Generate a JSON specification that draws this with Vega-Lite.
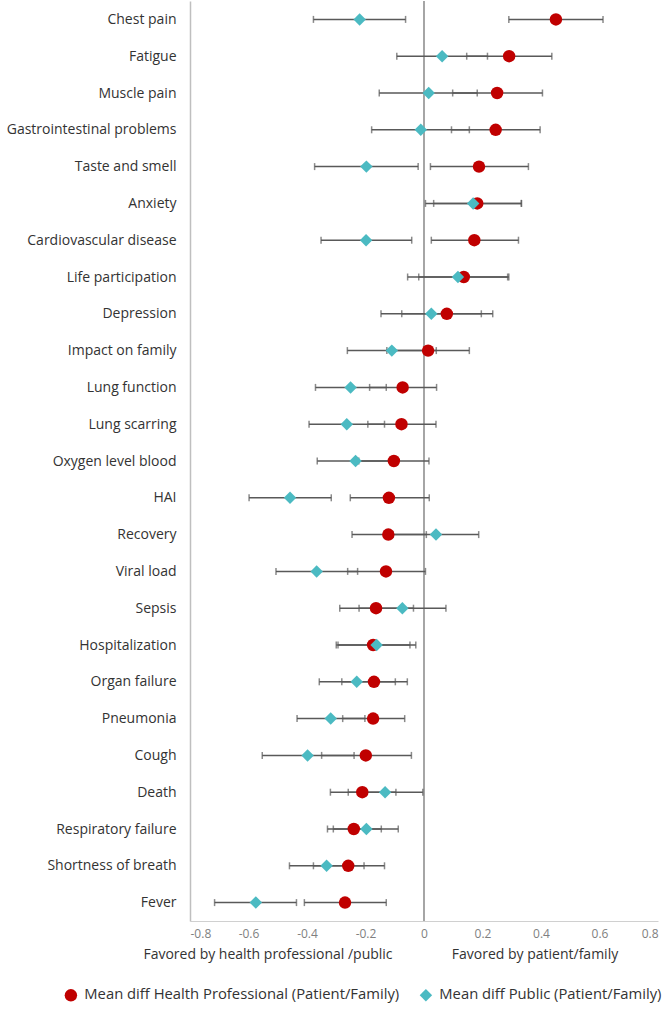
{
  "$schema": "https://vega.github.io/schema/vega-lite/v6.json",
  "width": 468,
  "height": 920,
  "padding": {"left": 0, "top": 0, "right": 5, "bottom": 5},
  "config": {
    "view": {"stroke": null},
    "font": "Open Sans",
    "legend": {"orient": "none", "legendX": -126.5, "legendY": 986.5, "direction": "horizontal", "columns": 2, "columnPadding": 19, "labelFont": "Open Sans", "labelFontSize": 14.8, "labelColor": "#333333", "labelOffset": 6, "labelLimit": 500, "symbolStrokeWidth": 0, "symbolSize": 155, "symbolOpacity": 1, "padding": 0, "title": null}
  },
  "data": {
    "values": [
      {"cat": "Chest pain", "group": "Mean diff Health Professional (Patient/Family)", "mean": 0.451, "lo": 0.290, "hi": 0.612},
      {"cat": "Fatigue", "group": "Mean diff Health Professional (Patient/Family)", "mean": 0.291, "lo": 0.146, "hi": 0.437},
      {"cat": "Muscle pain", "group": "Mean diff Health Professional (Patient/Family)", "mean": 0.250, "lo": 0.098, "hi": 0.405},
      {"cat": "Gastrointestinal problems", "group": "Mean diff Health Professional (Patient/Family)", "mean": 0.245, "lo": 0.094, "hi": 0.397},
      {"cat": "Taste and smell", "group": "Mean diff Health Professional (Patient/Family)", "mean": 0.188, "lo": 0.022, "hi": 0.357},
      {"cat": "Anxiety", "group": "Mean diff Health Professional (Patient/Family)", "mean": 0.182, "lo": 0.033, "hi": 0.333},
      {"cat": "Cardiovascular disease", "group": "Mean diff Health Professional (Patient/Family)", "mean": 0.172, "lo": 0.025, "hi": 0.323},
      {"cat": "Life participation", "group": "Mean diff Health Professional (Patient/Family)", "mean": 0.136, "lo": -0.018, "hi": 0.290},
      {"cat": "Depression", "group": "Mean diff Health Professional (Patient/Family)", "mean": 0.078, "lo": -0.076, "hi": 0.235},
      {"cat": "Impact on family", "group": "Mean diff Health Professional (Patient/Family)", "mean": 0.014, "lo": -0.127, "hi": 0.155},
      {"cat": "Lung function", "group": "Mean diff Health Professional (Patient/Family)", "mean": -0.073, "lo": -0.186, "hi": 0.043},
      {"cat": "Lung scarring", "group": "Mean diff Health Professional (Patient/Family)", "mean": -0.077, "lo": -0.192, "hi": 0.041},
      {"cat": "Oxygen level blood", "group": "Mean diff Health Professional (Patient/Family)", "mean": -0.103, "lo": -0.223, "hi": 0.017},
      {"cat": "HAI", "group": "Mean diff Health Professional (Patient/Family)", "mean": -0.120, "lo": -0.252, "hi": 0.018},
      {"cat": "Recovery", "group": "Mean diff Health Professional (Patient/Family)", "mean": -0.122, "lo": -0.246, "hi": 0.008},
      {"cat": "Viral load", "group": "Mean diff Health Professional (Patient/Family)", "mean": -0.130, "lo": -0.261, "hi": 0.005},
      {"cat": "Sepsis", "group": "Mean diff Health Professional (Patient/Family)", "mean": -0.164, "lo": -0.288, "hi": -0.036},
      {"cat": "Hospitalization", "group": "Mean diff Health Professional (Patient/Family)", "mean": -0.174, "lo": -0.300, "hi": -0.048},
      {"cat": "Organ failure", "group": "Mean diff Health Professional (Patient/Family)", "mean": -0.171, "lo": -0.281, "hi": -0.057},
      {"cat": "Pneumonia", "group": "Mean diff Health Professional (Patient/Family)", "mean": -0.174, "lo": -0.278, "hi": -0.066},
      {"cat": "Cough", "group": "Mean diff Health Professional (Patient/Family)", "mean": -0.199, "lo": -0.350, "hi": -0.043},
      {"cat": "Death", "group": "Mean diff Health Professional (Patient/Family)", "mean": -0.211, "lo": -0.320, "hi": -0.096},
      {"cat": "Respiratory failure", "group": "Mean diff Health Professional (Patient/Family)", "mean": -0.240, "lo": -0.330, "hi": -0.146},
      {"cat": "Shortness of breath", "group": "Mean diff Health Professional (Patient/Family)", "mean": -0.259, "lo": -0.378, "hi": -0.135},
      {"cat": "Fever", "group": "Mean diff Health Professional (Patient/Family)", "mean": -0.270, "lo": -0.409, "hi": -0.129},
      {"cat": "Chest pain", "group": "Mean diff Public (Patient/Family)", "mean": -0.220, "lo": -0.378, "hi": -0.063},
      {"cat": "Fatigue", "group": "Mean diff Public (Patient/Family)", "mean": 0.062, "lo": -0.093, "hi": 0.217},
      {"cat": "Muscle pain", "group": "Mean diff Public (Patient/Family)", "mean": 0.016, "lo": -0.153, "hi": 0.182},
      {"cat": "Gastrointestinal problems", "group": "Mean diff Public (Patient/Family)", "mean": -0.011, "lo": -0.179, "hi": 0.155},
      {"cat": "Taste and smell", "group": "Mean diff Public (Patient/Family)", "mean": -0.197, "lo": -0.374, "hi": -0.020},
      {"cat": "Anxiety", "group": "Mean diff Public (Patient/Family)", "mean": 0.168, "lo": 0.005, "hi": 0.333},
      {"cat": "Cardiovascular disease", "group": "Mean diff Public (Patient/Family)", "mean": -0.198, "lo": -0.352, "hi": -0.042},
      {"cat": "Life participation", "group": "Mean diff Public (Patient/Family)", "mean": 0.116, "lo": -0.056, "hi": 0.286},
      {"cat": "Depression", "group": "Mean diff Public (Patient/Family)", "mean": 0.025, "lo": -0.147, "hi": 0.196},
      {"cat": "Impact on family", "group": "Mean diff Public (Patient/Family)", "mean": -0.110, "lo": -0.262, "hi": 0.042},
      {"cat": "Lung function", "group": "Mean diff Public (Patient/Family)", "mean": -0.251, "lo": -0.371, "hi": -0.129},
      {"cat": "Lung scarring", "group": "Mean diff Public (Patient/Family)", "mean": -0.264, "lo": -0.393, "hi": -0.135},
      {"cat": "Oxygen level blood", "group": "Mean diff Public (Patient/Family)", "mean": -0.234, "lo": -0.365, "hi": -0.103},
      {"cat": "HAI", "group": "Mean diff Public (Patient/Family)", "mean": -0.458, "lo": -0.598, "hi": -0.317},
      {"cat": "Recovery", "group": "Mean diff Public (Patient/Family)", "mean": 0.041, "lo": -0.105, "hi": 0.187},
      {"cat": "Viral load", "group": "Mean diff Public (Patient/Family)", "mean": -0.367, "lo": -0.506, "hi": -0.227},
      {"cat": "Sepsis", "group": "Mean diff Public (Patient/Family)", "mean": -0.074, "lo": -0.222, "hi": 0.075},
      {"cat": "Hospitalization", "group": "Mean diff Public (Patient/Family)", "mean": -0.162, "lo": -0.294, "hi": -0.028},
      {"cat": "Organ failure", "group": "Mean diff Public (Patient/Family)", "mean": -0.230, "lo": -0.358, "hi": -0.098},
      {"cat": "Pneumonia", "group": "Mean diff Public (Patient/Family)", "mean": -0.319, "lo": -0.434, "hi": -0.202},
      {"cat": "Cough", "group": "Mean diff Public (Patient/Family)", "mean": -0.398, "lo": -0.553, "hi": -0.239},
      {"cat": "Death", "group": "Mean diff Public (Patient/Family)", "mean": -0.133, "lo": -0.259, "hi": -0.004},
      {"cat": "Respiratory failure", "group": "Mean diff Public (Patient/Family)", "mean": -0.197, "lo": -0.310, "hi": -0.088},
      {"cat": "Shortness of breath", "group": "Mean diff Public (Patient/Family)", "mean": -0.333, "lo": -0.460, "hi": -0.205},
      {"cat": "Fever", "group": "Mean diff Public (Patient/Family)", "mean": -0.575, "lo": -0.716, "hi": -0.436}
    ]
  },
  "layer": [
    {
      "mark": {"type": "rule", "color": "#A6A6A6", "strokeWidth": 1.2},
      "encoding": {
        "x": {
          "datum": 0,
          "type": "quantitative",
          "scale": {"domain": [-0.8, 0.8], "nice": false, "zero": false},
          "axis": {"orient": "bottom", "labels": false, "ticks": false, "domain": false, "grid": false, "title": "Favored by patient/family", "titleFont": "Open Sans", "titleFontSize": 14, "titleFontWeight": "normal", "titleColor": "#333333", "titleX": 344.5, "titleY": 33, "titleAlign": "center", "titleBaseline": "middle", "titleAnchor": null}
        }
      }
    },
    {
      "encoding": {
        "y": {
          "field": "cat",
          "type": "nominal",
          "sort": null,
          "scale": {"type": "point", "padding": 0.5},
          "axis": {"title": null, "ticks": false, "domain": true, "domainColor": "#BFBFBF", "domainWidth": 1.5, "labelFont": "Open Sans", "labelFontSize": 14, "labelColor": "#333333", "labelPadding": 14, "minExtent": 190, "maxExtent": 190, "labelLimit": 300}
        }
      },
      "layer": [
        {
          "mark": {"type": "rule", "color": "#595959", "strokeWidth": 1.5},
          "encoding": {
            "x": {
              "field": "lo",
              "type": "quantitative",
              "title": "Favored by health professional /public",
              "axis": {"orient": "bottom", "values": [-0.8, -0.6, -0.4, -0.2, 0, 0.2, 0.4, 0.6, 0.8], "labelExpr": "datum.value == 0 ? '0' : (datum.value < 0 ? '-' : '') + format(abs(datum.value), '.1f')", "ticks": false, "grid": false, "domain": true, "domainColor": "#D0D0D0", "labelFont": "Open Sans", "labelFontSize": 12, "labelColor": "#7F7F7F", "labelPadding": 7, "titleFont": "Open Sans", "titleFontSize": 14, "titleFontWeight": "normal", "titleColor": "#333333", "titleX": 77.5, "titleY": 33, "titleAlign": "center", "titleBaseline": "middle", "titleAnchor": null}
            },
            "x2": {"field": "hi"}
          }
        },
        {
          "mark": {"type": "tick", "color": "#595959", "thickness": 1.5, "size": 7},
          "encoding": {"x": {"field": "lo", "type": "quantitative", "title": "Favored by health professional /public"}}
        },
        {
          "mark": {"type": "tick", "color": "#595959", "thickness": 1.5, "size": 7},
          "encoding": {"x": {"field": "hi", "type": "quantitative", "title": "Favored by health professional /public"}}
        },
        {
          "mark": {"type": "point", "filled": true, "opacity": 1, "size": 155},
          "encoding": {
            "x": {"field": "mean", "type": "quantitative", "title": "Favored by health professional /public"},
            "color": {"field": "group", "type": "nominal", "scale": {"domain": ["Mean diff Health Professional (Patient/Family)", "Mean diff Public (Patient/Family)"], "range": ["#C00000", "#4BBAC2"]}, "legend": {"title": null}},
            "shape": {"field": "group", "type": "nominal", "scale": {"domain": ["Mean diff Health Professional (Patient/Family)", "Mean diff Public (Patient/Family)"], "range": ["circle", "diamond"]}, "legend": {"title": null}}
          }
        }
      ]
    }
  ],
  "resolve": {"axis": {"x": "independent"}}
}
